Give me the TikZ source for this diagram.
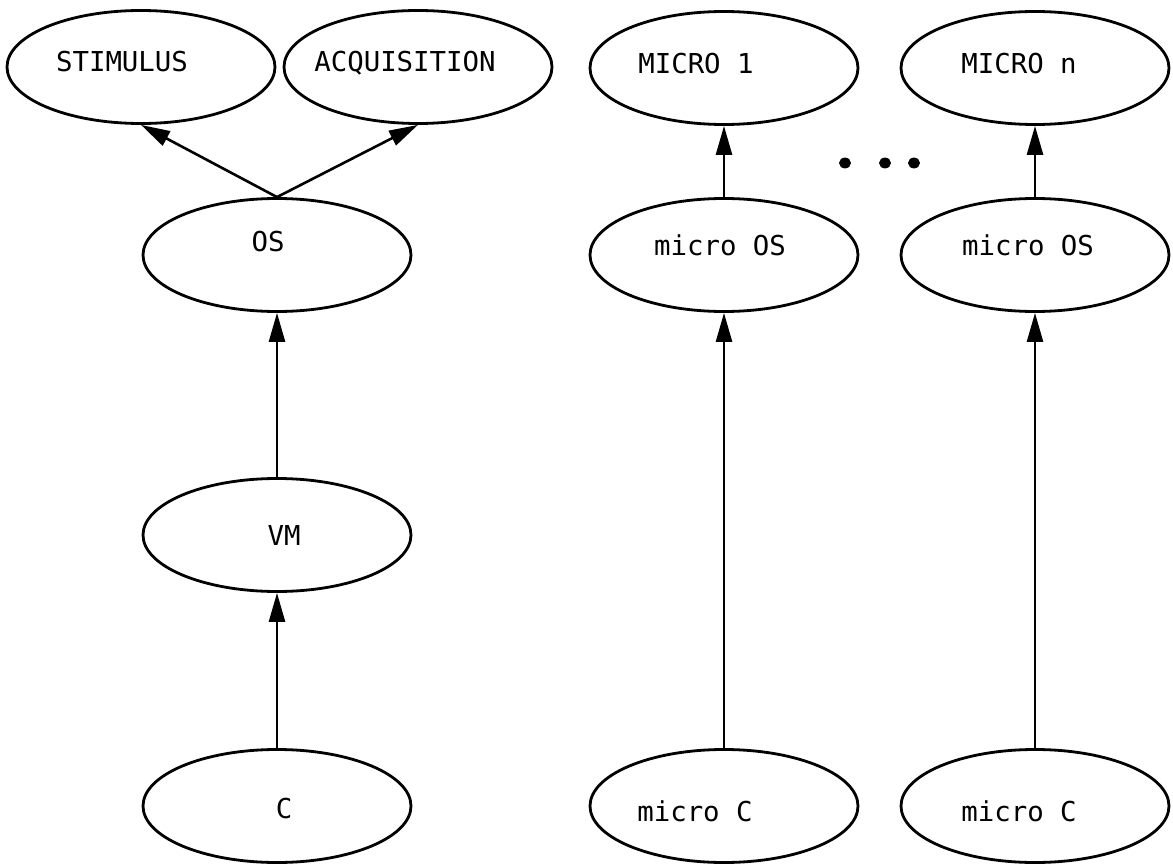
\documentclass[tikz,border=0pt]{standalone}
\usepackage{fontspec}
\setmonofont{DejaVu Sans Mono}
\usetikzlibrary{shapes.geometric,arrows.meta}

\begin{document}
\begin{tikzpicture}[x=1pt,y=-1pt,
    oval/.style={draw, ellipse, line width=2.8pt, inner sep=0pt,
                 minimum width=268pt, minimum height=113pt},
    lbl/.style={inner sep=0pt, text height=20pt, text depth=0pt,
                font=\ttfamily\fontsize{27.4}{30}\selectfont},
    link/.style={line width=2.6pt, -{Triangle[length=29pt,width=16pt]}}]
  \useasboundingbox (0,0) rectangle (1173,864);

  % left-hand hierarchy
  \node[oval] (stim) at (141,67)  {};
  \node[oval] (acq)  at (418,67)  {};
  \node[oval] (os)   at (277,255) {};
  \node[oval] (vm)   at (277,535) {};
  \node[oval] (c)    at (277,806) {};

  \node[lbl] (stimT) at ([shift={(-19,-5)}]stim.center) {STIMULUS};
  \node[lbl] (acqT)  at ([shift={(-13,-5)}]acq.center)  {ACQUISITION};
  \node[lbl] (osT)   at ([shift={(-9,-14)}]os.center)   {OS};
  \node[lbl] (vmT)   at ([shift={(7,0)}]vm.center)      {VM};
  \node[lbl] (cT)    at ([shift={(7,2)}]c.center)       {C};

  % micro columns
  \node[oval] (m1)   at (724,68)  {};
  \node[oval] (mn)   at (1035,68) {};
  \node[oval] (mos1) at (724,255) {};
  \node[oval] (mosn) at (1035,255) {};
  \node[oval] (mc1)  at (724,806) {};
  \node[oval] (mcn)  at (1035,806) {};

  \node[lbl] (m1T)   at ([shift={(-28,-4)}]m1.center)   {MICRO 1};
  \node[lbl] (mnT)   at ([shift={(-16,-4)}]mn.center)   {MICRO n};
  \node[lbl] (mos1T) at ([shift={(-4,-10)}]mos1.center) {micro OS};
  \node[lbl] (mosnT) at ([shift={(-7,-10)}]mosn.center) {micro OS};
  \node[lbl] (mc1T)  at ([shift={(-29,5)}]mc1.center)   {micro C};
  \node[lbl] (mcnT)  at ([shift={(-16,5)}]mcn.center)   {micro C};

  % connectors
  \draw[link] (os.north) -- (stim.south);
  \draw[link] (os.north) -- (acq.south);
  \draw[link] (vm.north) -- (os.south);
  \draw[link] (c.north)  -- (vm.south);
  \draw[link] (mos1.north) -- (m1.south);
  \draw[link] (mosn.north) -- (mn.south);
  \draw[link] (mc1.north)  -- (mos1.south);
  \draw[link] (mcn.north)  -- (mosn.south);

  % ellipsis between the micro columns
  \fill (845,163) ellipse [x radius=6pt, y radius=5.4pt];
  \fill (885,163) ellipse [x radius=6pt, y radius=5.4pt];
  \fill (914,163) ellipse [x radius=6pt, y radius=5.4pt];
\end{tikzpicture}
\end{document}
